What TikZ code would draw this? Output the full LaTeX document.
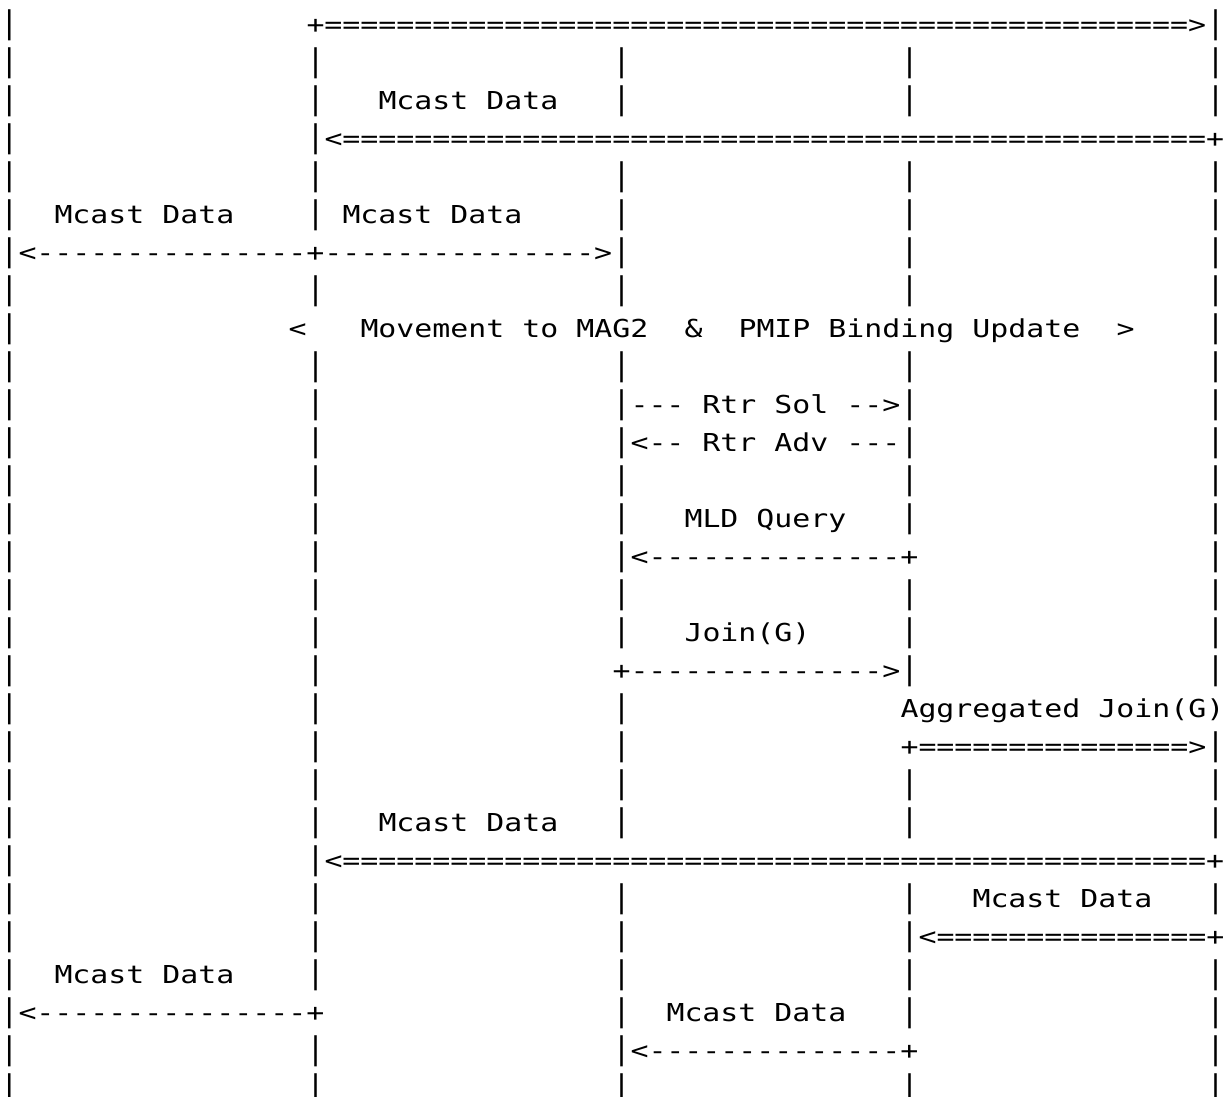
\documentclass[tikz,border=0pt]{standalone}
\usepackage{fontspec}
\usepackage{graphicx}
\newfontfamily\asciifont[FakeStretch=1.21,Ligatures=TeXOff]{DejaVu Sans Mono}
\newcommand\lifebar{\scalebox{1}[1.26]{|}}

\begin{document}
\begin{tikzpicture}[x=18pt,y=-38pt,
    every node/.style={inner sep=0pt,outer sep=0pt,anchor=base west,
      font=\asciifont\fontsize{24.7pt}{38pt}\selectfont}]
\useasboundingbox[fill=white] (0pt,0pt) rectangle (1223pt,-1097pt);
\begin{scope}[shift={(0.5pt,-33.3pt)}]
        % life lines
        \foreach \r/\cols in {0/{0,67},1/{0,17,34,50,67},2/{0,17,34,50,67},
            3/{0,17},4/{0,17,34,50,67},5/{0,17,34,50,67},6/{0,34,50,67},
            7/{0,17,34,50,67},8/{0,67},9/{0,17,34,50,67},10/{0,17,34,50,67},
            11/{0,17,34,50,67},12/{0,17,34,50,67},13/{0,17,34,50,67},
            14/{0,17,34,67},15/{0,17,34,50,67},16/{0,17,34,50,67},
            17/{0,17,50,67},18/{0,17,34},19/{0,17,34,67},20/{0,17,34,50,67},
            21/{0,17,34,50,67},22/{0,17},23/{0,17,34,50,67},24/{0,17,34,50},
            25/{0,17,34,50,67},26/{0,34,50,67},27/{0,17,34,67},
            28/{0,17,34,50,67}}
            \foreach \c in \cols
                \node(b\r-\c) at (\c,\r) {\lifebar};
        % messages
        \node(a0) at (17,0) {+================================================>};
        \node(t2) at (21,2) {Mcast Data};
        \node(a3) at (18,3) {<================================================+};
        \node(t5a) at (3,5) {Mcast Data};
        \node(t5b) at (19,5) {Mcast Data};
        \node(a6) at (1,6) {<---------------+--------------->};
        \node(l8) at (16,8) {<};
        \node(t8a) at (20,8) {Movement to MAG2};
        \node(t8b) at (38,8) {\&};
        \node(t8c) at (41,8) {PMIP Binding Update};
        \node(r8) at (62,8) {>};
        \node(a10) at (35,10) {--- Rtr Sol -->};
        \node(a11) at (35,11) {<-- Rtr Adv ---};
        \node(t13) at (38,13) {MLD Query};
        \node(a14) at (35,14) {<--------------+};
        \node(t16) at (38,16) {Join(G)};
        \node(a17) at (34,17) {+-------------->};
        \node(t18) at (50,18) {Aggregated Join(G)};
        \node(a19) at (50,19) {+===============>};
        \node(t21) at (21,21) {Mcast Data};
        \node(a22) at (18,22) {<================================================+};
        \node(t23) at (54,23) {Mcast Data};
        \node(a24) at (51,24) {<===============+};
        \node(t25) at (3,25) {Mcast Data};
        \node(a26) at (1,26) {<---------------+};
        \node(t26) at (37,26) {Mcast Data};
        \node(a27) at (35,27) {<--------------+};
\end{scope}
\end{tikzpicture}
\end{document}
